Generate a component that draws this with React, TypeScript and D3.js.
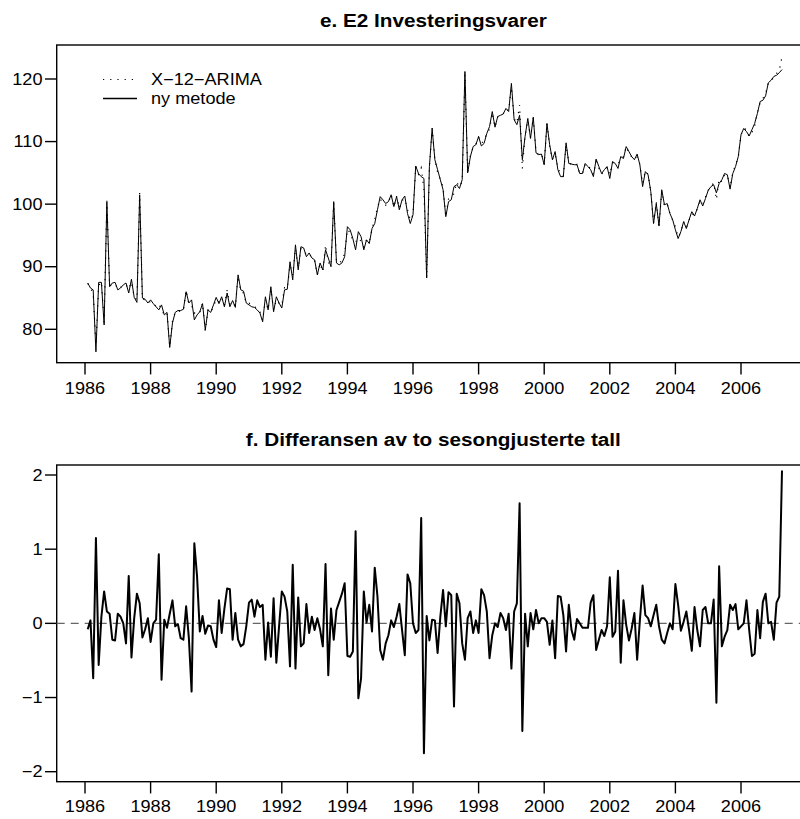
import * as d3 from "d3";

// monthly series, February 1986 - April 2007
const START_YEAR = 1986 + 1 / 12;

// seasonally adjusted, new method
const NY_METODE = [
  87.4, 86.6, 86.3, 76.4, 87.5, 87.5, 80.7, 100.4, 86.8, 87.4,
  87.5, 86.3, 86.6, 87.1, 87.4, 85.8, 88.0, 85.1, 84.3, 101.5,
  85.0, 84.8, 84.2, 84.7, 84.1, 83.6, 83.1, 83.9, 82.3, 82.7,
  77.1, 81.0, 82.7, 83.0, 83.0, 83.2, 86.0, 84.2, 84.7, 81.5,
  82.3, 82.8, 84.1, 79.9, 83.1, 82.7, 83.9, 85.1, 84.1, 85.2,
  83.6, 85.8, 83.6, 84.6, 83.5, 88.7, 86.3, 86.1, 84.2, 83.9,
  83.6, 83.5,
  83.1, 82.6, 81.2, 85.2, 83.1, 86.8, 82.8, 85.2, 84.2, 83.4,
  86.3, 86.4, 90.8, 87.9, 93.5, 89.5, 93.2, 93.0, 91.6, 92.2,
  91.4, 91.1, 88.7, 90.6, 89.5, 92.7, 91.4, 90.0, 100.4, 90.6,
  90.3, 90.6, 91.6, 96.4, 95.9, 94.5, 92.7, 95.6, 94.8, 92.7,
  94.3, 93.7, 96.1, 96.9, 99.1, 101.2, 100.7, 100.1, 100.4, 101.5,
  99.6, 101.2, 99.1, 100.7, 101.3, 98.5, 96.9, 98.3, 106.1, 104.9,
  104.4, 104.1, 88.2, 106.0, 112.1, 107.1, 105.5, 103.9, 102.3, 98.0,
  100.4, 100.7, 102.8, 103.1, 102.5, 103.9, 121.2, 105.0, 107.6, 109.2,
  109.5, 110.8, 109.3, 109.7, 111.3, 112.4, 114.8, 112.3, 114.0, 114.2,
  114.4, 115.3, 114.8, 119.3, 113.5, 112.7, 114.2, 107.1, 110.8, 113.7,
  110.5, 113.9, 108.2, 107.9, 108.0, 106.3, 112.9, 109.5, 107.1, 108.4,
  105.5, 104.4, 104.4, 109.8, 106.5, 106.4, 106.3, 106.3, 104.9, 104.9,
  106.5, 106.0, 105.5, 104.4, 107.2, 106.0, 104.9, 105.5, 106.0, 104.1,
  106.8, 106.5, 105.7, 107.6, 107.3, 109.2, 108.4, 107.6, 107.1,
  108.0, 106.3, 102.8, 105.2, 104.7, 102.0, 96.9, 100.1, 96.5, 102.3,
  99.9, 100.1, 98.5, 97.5, 95.9, 94.5, 95.6, 97.2, 96.1, 97.5,
  98.8, 98.1, 99.3, 100.7, 99.7, 100.9, 102.2, 102.8, 103.1, 101.8,
  103.3, 103.9, 104.9, 104.7, 102.4, 104.9, 106.0, 107.6, 111.1, 112.1,
  111.6, 110.9, 111.9, 112.9, 114.5, 116.4, 116.6, 117.3, 119.4, 119.8,
  120.4, 120.6, 121.0, 121.5,
];

// X-12-ARIMA minus new method (panel f)
const DIFFERANSE = [
  -0.08, 0.04, -0.74, 1.15, -0.56, 0.09, 0.43, 0.16, 0.13, -0.22,
  -0.23, 0.13, 0.09, 0.0, -0.27, 0.64, -0.46, 0.07, 0.4, 0.27,
  -0.19, -0.08, 0.07, -0.25, 0.0, 0.05, 0.93, -0.76, 0.05, -0.06,
  0.13, 0.31, -0.04, -0.01, -0.2, -0.22, 0.23, -0.2, -0.92, 1.08,
  0.63, -0.11, 0.1, -0.14, -0.03, -0.04, -0.22, -0.32, 0.31, -0.13,
  0.2, 0.47, 0.46, -0.22, 0.14, -0.22, -0.31, -0.28, -0.04, 0.28,
  0.32, 0.09,
  0.31, 0.22, 0.25, -0.49, 0.01, -0.45, 0.34, -0.53, -0.04, 0.43,
  0.36, 0.16, -0.58, 0.79, -0.61, 0.35, -0.31, -0.27, 0.26, -0.13,
  0.09, -0.09, 0.07, -0.08, -0.31, 0.8, -0.7, 0.2, -0.22, 0.18,
  0.29, 0.4, 0.54, -0.44, -0.45, -0.38, 1.24, -1.01, -0.74, 0.43,
  0.01, 0.25, -0.11, 0.75, 0.36, -0.36, -0.49, -0.27, -0.16, 0.04,
  -0.05, 0.09, 0.26, -0.09, -0.43, 0.66, 0.54, 0.0, -0.13, -0.09,
  1.42, -1.75, 0.1, -0.23, 0.05, 0.04, -0.4, 0.09, 0.45,
  -0.04, 0.42, 0.38, -1.12, 0.4, 0.27, -0.27, -0.49, 0.07, 0.16,
  -0.13, 0.04, -0.13, 0.46, 0.38, 0.16, -0.47, -0.16, 0.0, -0.05,
  0.14, 0.07, -0.09, 0.13, -0.61, 0.16, 0.27, 1.62, -1.45, 0.13,
  -0.31, 0.14, -0.08, 0.18, 0.0, 0.07, 0.07, 0.02, -0.29, 0.04,
  -0.47, 0.37, 0.36, 0.11, -0.38, 0.25, -0.09, -0.22, 0.06, 0.0,
  -0.06, -0.06, -0.06, 0.28, 0.38, -0.36, -0.22, -0.09, -0.17, -0.04,
  0.62, -0.18, -0.11, 0.71, -0.53, 0.31, -0.02, -0.23, -0.07, 0.14,
  -0.49, 0.04, 0.51, 0.11, 0.07, -0.04, 0.11, 0.25, -0.04, -0.22,
  -0.27, -0.13, 0.0, -0.08, 0.53, 0.25, -0.1, 0.02, 0.16, -0.09,
  -0.37, 0.22, -0.09, -0.31, 0.18, 0.22, 0.0, 0.0, 0.32, -1.07,
  0.77, -0.31, -0.18, -0.09, 0.25, 0.18, 0.26, -0.08, -0.04, 0.0,
  0.31, -0.09, -0.44, -0.41, 0.18, -0.2, 0.29, 0.4, 0.0, 0.02,
  -0.22, 0.28, 0.36, 2.06,
];

// X-12-ARIMA series = new method + difference
const X12_ARIMA = NY_METODE.map((v, i) => v + DIFFERANSE[i]);

const YEAR_TICKS = [1986, 1988, 1990, 1992, 1994, 1996, 1998, 2000, 2002, 2004, 2006];
const LEVEL_TICKS = [80, 90, 100, 110, 120];
const DIFF_TICKS = [-2, -1, 0, 1, 2];
const TITLE_E = "e. E2 Investeringsvarer";
const TITLE_F = "f. Differansen av to sesongjusterte tall";
const LEGEND_LABELS = ["X\u221212\u2212ARIMA", "ny metode"];

const W = 800;
const H = 819;
const FONT = '"Liberation Sans", Arial, Helvetica, sans-serif';
const SX = 1.12; // the original is slightly stretched sideways
const TICK_FS = 16.2;
const TITLE_FS = 18.5;
const FRAME_L = 56.7;
const FRAME_R = 810;
const TICK = 11.7;

const x = d3.scaleLinear().domain([1986, 2006]).range([85, 741]);
const tx = (i: number) => x(START_YEAR + i / 12);

const fmt = d3.format("d");

function Label(props: {
  x: number;
  y: number;
  anchor?: "start" | "middle" | "end";
  size?: number;
  bold?: boolean;
  children: string;
}) {
  const { anchor = "middle", size = TICK_FS, bold = false } = props;
  return (
    <text
      transform={`translate(${props.x},${props.y}) scale(${SX},1)`}
      textAnchor={anchor}
      dy="0.35em"
      fontSize={size}
      fontWeight={bold ? "bold" : "normal"}
      fontFamily={FONT}
      fill="#000"
    >
      {props.children}
    </text>
  );
}

function Panel(props: {
  top: number;
  bottom: number;
  y: d3.ScaleLinear<number, number>;
  ticks: number[];
  title: string;
  titleY: number;
  labelY: number;
  children: React.ReactNode;
}) {
  const { top, bottom, y, ticks } = props;
  return (
    <g>
      <Label x={(FRAME_L + FRAME_R) / 2} y={props.titleY} size={TITLE_FS} bold>
        {props.title}
      </Label>
      <g stroke="#000" strokeWidth={1.4} fill="none">
        <rect x={FRAME_L} y={top} width={FRAME_R - FRAME_L} height={bottom - top} />
        {ticks.map((t) => (
          <line key={`y${t}`} x1={FRAME_L - TICK} x2={FRAME_L} y1={y(t)} y2={y(t)} />
        ))}
        {YEAR_TICKS.map((t) => (
          <line key={`x${t}`} x1={x(t)} x2={x(t)} y1={bottom} y2={bottom + TICK} />
        ))}
      </g>
      {ticks.map((t) => (
        <Label key={`yl${t}`} x={FRAME_L - TICK - 2.5} y={y(t)} anchor="end">
          {fmt(t)}
        </Label>
      ))}
      {YEAR_TICKS.map((t) => (
        <Label key={`xl${t}`} x={x(t)} y={props.labelY}>
          {String(t)}
        </Label>
      ))}
      {props.children}
    </g>
  );
}

export default function App() {
  const yTop = d3.scaleLinear().domain([80, 120]).range([329.3, 79]);
  const yBot = d3.scaleLinear().domain([-2, 2]).range([771.7, 475]);

  const topLine = d3
    .line<number>()
    .x((_, i) => tx(i))
    .y((d) => yTop(d));
  const botLine = d3
    .line<number>()
    .x((_, i) => tx(i))
    .y((d) => yBot(d));

  return (
    <svg
      width={W}
      height={H}
      style={{ position: "absolute", left: 0, top: 0, background: "#fff" }}
    >
      <Panel
        top={45}
        bottom={362.7}
        y={yTop}
        ticks={LEVEL_TICKS}
        title={TITLE_E}
        titleY={20.5}
        labelY={388}
      >
        <path
          d={topLine(X12_ARIMA) ?? ""}
          fill="none"
          stroke="#000"
          strokeWidth={1.2}
          strokeDasharray="1.2 6"
        />
        <path
          d={topLine(NY_METODE) ?? ""}
          fill="none"
          stroke="#000"
          strokeWidth={1}
          strokeLinejoin="round"
        />
        <line x1={103} x2={133} y1={79.5} y2={79.5} stroke="#000" strokeWidth={1.2} strokeDasharray="1.2 6" />
        <line x1={103} x2={137} y1={98.5} y2={98.5} stroke="#000" strokeWidth={1.3} />
        <Label x={151} y={79.5} anchor="start">
          {LEGEND_LABELS[0]}
        </Label>
        <Label x={151} y={98.5} anchor="start">
          {LEGEND_LABELS[1]}
        </Label>
      </Panel>

      <Panel
        top={465}
        bottom={781.7}
        y={yBot}
        ticks={DIFF_TICKS}
        title={TITLE_F}
        titleY={439.5}
        labelY={806}
      >
        <line
          x1={FRAME_L}
          x2={FRAME_R}
          y1={yBot(0)}
          y2={yBot(0)}
          stroke="#666"
          strokeWidth={1.3}
          strokeDasharray="8 6"
        />
        <path
          d={botLine(DIFFERANSE) ?? ""}
          fill="none"
          stroke="#000"
          strokeWidth={2}
          strokeLinejoin="round"
        />
      </Panel>
    </svg>
  );
}
